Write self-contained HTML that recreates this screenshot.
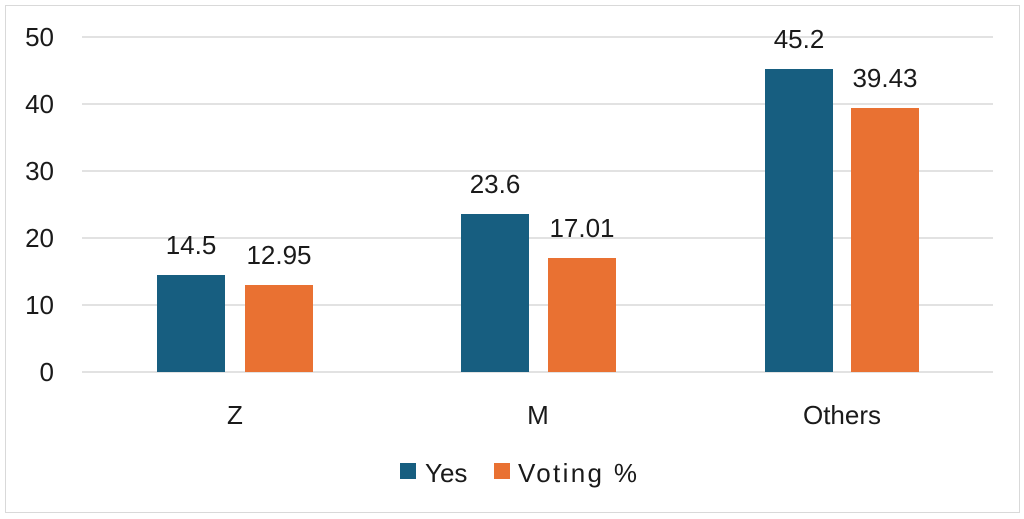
<!DOCTYPE html>
<html><head><meta charset="utf-8"><style>
html,body{margin:0;padding:0;background:#fff;}
svg{display:block;font-family:"Liberation Sans",sans-serif;}
</style></head><body>
<svg width="1024" height="519" viewBox="0 0 1024 519" xmlns="http://www.w3.org/2000/svg">
<rect x="5.5" y="5.5" width="1014" height="507" fill="#fff" stroke="#d9d9d9" stroke-width="1"/>
<g stroke="#d9d9d9" stroke-width="1.5">
<line x1="82" y1="37" x2="993" y2="37"/>
<line x1="82" y1="104" x2="993" y2="104"/>
<line x1="82" y1="171" x2="993" y2="171"/>
<line x1="82" y1="238" x2="993" y2="238"/>
<line x1="82" y1="305" x2="993" y2="305"/>
<line x1="82" y1="372" x2="993" y2="372"/>
</g>
<g font-size="26" fill="#1a1a1a" text-anchor="end">
<text x="54" y="46">50</text>
<text x="54" y="113">40</text>
<text x="54" y="180">30</text>
<text x="54" y="247">20</text>
<text x="54" y="314">10</text>
<text x="54" y="381">0</text>
</g>
<g fill="#175e80">
<rect x="157" y="275" width="68" height="97"/>
<rect x="461" y="214" width="68" height="158"/>
<rect x="765" y="69" width="68" height="303"/>
</g>
<g fill="#e97132">
<rect x="245" y="285" width="68" height="87"/>
<rect x="548" y="258" width="68" height="114"/>
<rect x="851" y="108" width="68" height="264"/>
</g>
<g font-size="26" fill="#1a1a1a" text-anchor="middle">
<text x="191" y="254">14.5</text>
<text x="279" y="264">12.95</text>
<text x="495" y="193">23.6</text>
<text x="582" y="237">17.01</text>
<text x="799" y="48">45.2</text>
<text x="885" y="87">39.43</text>
<text x="235" y="424">Z</text>
<text x="538" y="424">M</text>
<text x="842" y="424">Others</text>
</g>
<rect x="400" y="463" width="16" height="16" fill="#175e80"/>
<text x="425" y="482" font-size="26" fill="#1a1a1a">Yes</text>
<rect x="494" y="463" width="16" height="16" fill="#e97132"/>
<text x="518" y="482" font-size="26" fill="#1a1a1a" textLength="119">Voting %</text>
</svg>
</body></html>
